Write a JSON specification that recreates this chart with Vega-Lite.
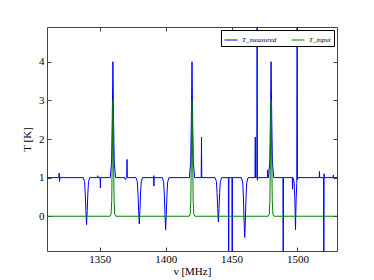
{
  "$schema": "https://vega.github.io/schema/vega-lite/v6.json",
  "width": 290,
  "height": 224,
  "autosize": {"type": "none"},
  "padding": {"left": 47, "top": 27, "right": 37, "bottom": 29},
  "config": {
    "view": {"stroke": "#444", "strokeWidth": 1},
    "font": "Liberation Serif",
    "axis": {
      "labelFont": "Liberation Serif",
      "titleFont": "Liberation Serif",
      "labelFontSize": 11,
      "titleFontSize": 11,
      "titleFontWeight": "normal",
      "labelColor": "#000",
      "titleColor": "#000",
      "grid": false,
      "domain": false,
      "tickColor": "#444",
      "tickSize": -4
    }
  },
  "datasets": {
    "measured": [
      {"nu": 1310, "T": 1, "series": "T_measured"},
      {"nu": 1319, "T": 1, "series": "T_measured"},
      {"nu": 1319.2, "T": 1.12, "series": "T_measured"},
      {"nu": 1319.5, "T": 0.9, "series": "T_measured"},
      {"nu": 1319.8, "T": 1, "series": "T_measured"},
      {"nu": 1337.5, "T": 1, "series": "T_measured"},
      {"nu": 1338.5, "T": 0.9, "series": "T_measured"},
      {"nu": 1339, "T": 0.6, "series": "T_measured"},
      {"nu": 1339.5, "T": 0.15, "series": "T_measured"},
      {"nu": 1340, "T": -0.22, "series": "T_measured"},
      {"nu": 1340.5, "T": 0.15, "series": "T_measured"},
      {"nu": 1341, "T": 0.6, "series": "T_measured"},
      {"nu": 1341.5, "T": 0.9, "series": "T_measured"},
      {"nu": 1342.5, "T": 1, "series": "T_measured"},
      {"nu": 1348.3, "T": 1, "series": "T_measured"},
      {"nu": 1348.5, "T": 1.05, "series": "T_measured"},
      {"nu": 1348.7, "T": 1, "series": "T_measured"},
      {"nu": 1350.3, "T": 1, "series": "T_measured"},
      {"nu": 1350.5, "T": 0.73, "series": "T_measured"},
      {"nu": 1350.7, "T": 1, "series": "T_measured"},
      {"nu": 1358, "T": 1, "series": "T_measured"},
      {"nu": 1359, "T": 1.4, "series": "T_measured"},
      {"nu": 1359.5, "T": 2.5, "series": "T_measured"},
      {"nu": 1360, "T": 4, "series": "T_measured"},
      {"nu": 1360.5, "T": 2.5, "series": "T_measured"},
      {"nu": 1361, "T": 1.4, "series": "T_measured"},
      {"nu": 1362, "T": 1, "series": "T_measured"},
      {"nu": 1369, "T": 1, "series": "T_measured"},
      {"nu": 1369.3, "T": 0.95, "series": "T_measured"},
      {"nu": 1370.5, "T": 1, "series": "T_measured"},
      {"nu": 1370.7, "T": 1.47, "series": "T_measured"},
      {"nu": 1370.9, "T": 1, "series": "T_measured"},
      {"nu": 1377.5, "T": 1, "series": "T_measured"},
      {"nu": 1378.5, "T": 0.9, "series": "T_measured"},
      {"nu": 1379, "T": 0.6, "series": "T_measured"},
      {"nu": 1379.5, "T": 0.15, "series": "T_measured"},
      {"nu": 1380, "T": -0.2, "series": "T_measured"},
      {"nu": 1380.5, "T": 0.15, "series": "T_measured"},
      {"nu": 1381, "T": 0.6, "series": "T_measured"},
      {"nu": 1381.5, "T": 0.9, "series": "T_measured"},
      {"nu": 1382.5, "T": 1, "series": "T_measured"},
      {"nu": 1390.8, "T": 1, "series": "T_measured"},
      {"nu": 1391, "T": 1.05, "series": "T_measured"},
      {"nu": 1391.1, "T": 0.78, "series": "T_measured"},
      {"nu": 1391.3, "T": 1, "series": "T_measured"},
      {"nu": 1397.5, "T": 1, "series": "T_measured"},
      {"nu": 1398.5, "T": 0.88, "series": "T_measured"},
      {"nu": 1399, "T": 0.55, "series": "T_measured"},
      {"nu": 1399.5, "T": 0.05, "series": "T_measured"},
      {"nu": 1400, "T": -0.35, "series": "T_measured"},
      {"nu": 1400.5, "T": 0.05, "series": "T_measured"},
      {"nu": 1401, "T": 0.55, "series": "T_measured"},
      {"nu": 1401.5, "T": 0.88, "series": "T_measured"},
      {"nu": 1402.5, "T": 1, "series": "T_measured"},
      {"nu": 1418, "T": 1, "series": "T_measured"},
      {"nu": 1419, "T": 1.4, "series": "T_measured"},
      {"nu": 1419.5, "T": 2.5, "series": "T_measured"},
      {"nu": 1420, "T": 4, "series": "T_measured"},
      {"nu": 1420.5, "T": 2.5, "series": "T_measured"},
      {"nu": 1421, "T": 1.4, "series": "T_measured"},
      {"nu": 1422, "T": 1, "series": "T_measured"},
      {"nu": 1427, "T": 1, "series": "T_measured"},
      {"nu": 1427.2, "T": 2.05, "series": "T_measured"},
      {"nu": 1427.4, "T": 1, "series": "T_measured"},
      {"nu": 1437.5, "T": 1, "series": "T_measured"},
      {"nu": 1438.5, "T": 0.9, "series": "T_measured"},
      {"nu": 1439, "T": 0.62, "series": "T_measured"},
      {"nu": 1439.5, "T": 0.2, "series": "T_measured"},
      {"nu": 1440, "T": -0.15, "series": "T_measured"},
      {"nu": 1440.5, "T": 0.2, "series": "T_measured"},
      {"nu": 1441, "T": 0.62, "series": "T_measured"},
      {"nu": 1441.5, "T": 0.9, "series": "T_measured"},
      {"nu": 1442.5, "T": 1, "series": "T_measured"},
      {"nu": 1447.6, "T": 1, "series": "T_measured"},
      {"nu": 1447.8, "T": -3, "series": "T_measured"},
      {"nu": 1448, "T": 1, "series": "T_measured"},
      {"nu": 1450.3, "T": 1, "series": "T_measured"},
      {"nu": 1450.5, "T": -3, "series": "T_measured"},
      {"nu": 1450.7, "T": 1, "series": "T_measured"},
      {"nu": 1457.5, "T": 1, "series": "T_measured"},
      {"nu": 1458.5, "T": 0.86, "series": "T_measured"},
      {"nu": 1459, "T": 0.5, "series": "T_measured"},
      {"nu": 1459.5, "T": -0.1, "series": "T_measured"},
      {"nu": 1460, "T": -0.55, "series": "T_measured"},
      {"nu": 1460.5, "T": -0.1, "series": "T_measured"},
      {"nu": 1461, "T": 0.5, "series": "T_measured"},
      {"nu": 1461.5, "T": 0.86, "series": "T_measured"},
      {"nu": 1462.5, "T": 1, "series": "T_measured"},
      {"nu": 1467.8, "T": 1, "series": "T_measured"},
      {"nu": 1468, "T": 2.05, "series": "T_measured"},
      {"nu": 1468.2, "T": 1, "series": "T_measured"},
      {"nu": 1469.2, "T": 1, "series": "T_measured"},
      {"nu": 1469.4, "T": 8, "series": "T_measured"},
      {"nu": 1469.6, "T": 0.93, "series": "T_measured"},
      {"nu": 1469.8, "T": 1, "series": "T_measured"},
      {"nu": 1477.2, "T": 1, "series": "T_measured"},
      {"nu": 1477.4, "T": 1.2, "series": "T_measured"},
      {"nu": 1477.6, "T": 1, "series": "T_measured"},
      {"nu": 1478, "T": 1, "series": "T_measured"},
      {"nu": 1479, "T": 1.4, "series": "T_measured"},
      {"nu": 1479.5, "T": 2.5, "series": "T_measured"},
      {"nu": 1480, "T": 4, "series": "T_measured"},
      {"nu": 1480.5, "T": 2.5, "series": "T_measured"},
      {"nu": 1481, "T": 1.4, "series": "T_measured"},
      {"nu": 1482, "T": 1, "series": "T_measured"},
      {"nu": 1489, "T": 1, "series": "T_measured"},
      {"nu": 1489.2, "T": -3, "series": "T_measured"},
      {"nu": 1489.4, "T": 1, "series": "T_measured"},
      {"nu": 1496.1, "T": 1, "series": "T_measured"},
      {"nu": 1496.3, "T": 0.7, "series": "T_measured"},
      {"nu": 1496.5, "T": 1, "series": "T_measured"},
      {"nu": 1497, "T": 0.95, "series": "T_measured"},
      {"nu": 1497.5, "T": 0.85, "series": "T_measured"},
      {"nu": 1498, "T": 0.45, "series": "T_measured"},
      {"nu": 1498.5, "T": -0.35, "series": "T_measured"},
      {"nu": 1499, "T": 0.45, "series": "T_measured"},
      {"nu": 1499.5, "T": 0.85, "series": "T_measured"},
      {"nu": 1499.8, "T": 8, "series": "T_measured"},
      {"nu": 1500, "T": 0.95, "series": "T_measured"},
      {"nu": 1500.5, "T": 1, "series": "T_measured"},
      {"nu": 1516.5, "T": 1, "series": "T_measured"},
      {"nu": 1516.7, "T": 1.16, "series": "T_measured"},
      {"nu": 1516.9, "T": 1, "series": "T_measured"},
      {"nu": 1519.8, "T": 1, "series": "T_measured"},
      {"nu": 1520, "T": -3, "series": "T_measured"},
      {"nu": 1520.2, "T": 1.1, "series": "T_measured"},
      {"nu": 1520.4, "T": 1, "series": "T_measured"},
      {"nu": 1527, "T": 1, "series": "T_measured"},
      {"nu": 1527.2, "T": 1.07, "series": "T_measured"},
      {"nu": 1527.4, "T": 1, "series": "T_measured"},
      {"nu": 1530, "T": 1, "series": "T_measured"}
    ],
    "input": [
      {"nu": 1310, "T": 0, "series": "T_input"},
      {"nu": 1357.8, "T": 0, "series": "T_input"},
      {"nu": 1358.6, "T": 0.05, "series": "T_input"},
      {"nu": 1359.1, "T": 0.4, "series": "T_input"},
      {"nu": 1359.5, "T": 1.5, "series": "T_input"},
      {"nu": 1360, "T": 3, "series": "T_input"},
      {"nu": 1360.5, "T": 1.5, "series": "T_input"},
      {"nu": 1360.9, "T": 0.4, "series": "T_input"},
      {"nu": 1361.4, "T": 0.05, "series": "T_input"},
      {"nu": 1362.2, "T": 0, "series": "T_input"},
      {"nu": 1417.8, "T": 0, "series": "T_input"},
      {"nu": 1418.6, "T": 0.05, "series": "T_input"},
      {"nu": 1419.1, "T": 0.4, "series": "T_input"},
      {"nu": 1419.5, "T": 1.5, "series": "T_input"},
      {"nu": 1420, "T": 3, "series": "T_input"},
      {"nu": 1420.5, "T": 1.5, "series": "T_input"},
      {"nu": 1420.9, "T": 0.4, "series": "T_input"},
      {"nu": 1421.4, "T": 0.05, "series": "T_input"},
      {"nu": 1422.2, "T": 0, "series": "T_input"},
      {"nu": 1477.8, "T": 0, "series": "T_input"},
      {"nu": 1478.6, "T": 0.05, "series": "T_input"},
      {"nu": 1479.1, "T": 0.4, "series": "T_input"},
      {"nu": 1479.5, "T": 1.5, "series": "T_input"},
      {"nu": 1480, "T": 3, "series": "T_input"},
      {"nu": 1480.5, "T": 1.5, "series": "T_input"},
      {"nu": 1480.9, "T": 0.4, "series": "T_input"},
      {"nu": 1481.4, "T": 0.05, "series": "T_input"},
      {"nu": 1482.2, "T": 0, "series": "T_input"},
      {"nu": 1530, "T": 0, "series": "T_input"}
    ]
  },
  "layer": [
    {
      "data": {"name": "measured"},
      "mark": {"type": "line", "clip": true, "strokeWidth": 1, "interpolate": "linear"},
      "encoding": {
        "x": {"field": "nu", "type": "quantitative", "sort": null,
          "scale": {"domain": [1310, 1530], "nice": false, "zero": false},
          "axis": {"orient": "bottom", "values": [1350, 1400, 1450, 1500], "title": "ν [MHz]", "labelPadding": 6, "titlePadding": 1, "format": "d"}},
        "y": {"field": "T", "type": "quantitative",
          "scale": {"domain": [-0.9, 4.9], "nice": false, "zero": false},
          "axis": {"orient": "left", "values": [0, 1, 2, 3, 4], "title": "T [K]", "labelPadding": 7, "titlePadding": 6}},
        "color": {"field": "series", "type": "nominal",
          "scale": {"domain": ["T_measured", "T_input"], "range": ["#0000ff", "#008000"]},
          "legend": {
            "orient": "top-right", "direction": "horizontal", "title": null,
            "offset": 3, "padding": 3, "strokeColor": "#000", "fillColor": "#fff",
            "symbolType": "stroke", "symbolStrokeWidth": 1, "symbolSize": 169,
            "labelFont": "Liberation Serif", "labelFontSize": 7, "labelFontStyle": "italic",
            "columnPadding": 12, "cornerRadius": 0
          }}
      }
    },
    {
      "data": {"name": "input"},
      "mark": {"type": "line", "clip": true, "strokeWidth": 1},
      "encoding": {
        "x": {"field": "nu", "type": "quantitative", "sort": null,
          "axis": {"orient": "top", "values": [1350, 1400, 1450, 1500], "labels": false, "title": null}},
        "y": {"field": "T", "type": "quantitative",
          "axis": {"orient": "right", "values": [0, 1, 2, 3, 4], "labels": false, "title": null}},
        "color": {"field": "series", "type": "nominal"}
      }
    }
  ],
  "resolve": {"axis": {"x": "independent", "y": "independent"}}
}
